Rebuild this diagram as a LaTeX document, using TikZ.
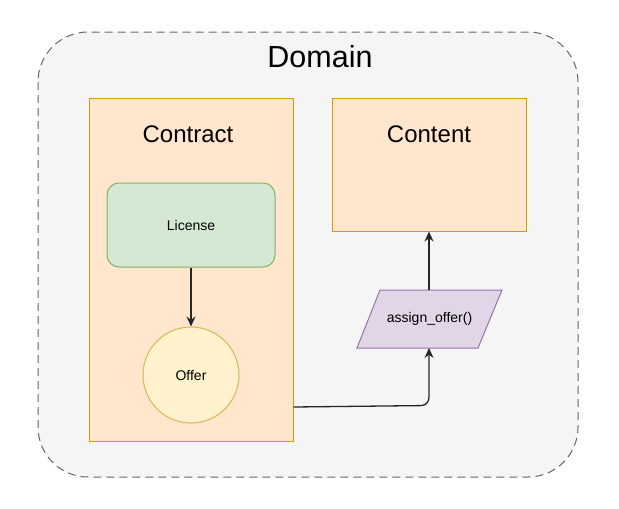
\documentclass[tikz,border=0pt]{standalone}
\usepackage{fontspec}
\setmainfont{Liberation Sans}
\usetikzlibrary{shapes.geometric,arrows.meta}
\definecolor{domfill}{HTML}{F5F5F5}
\definecolor{domline}{HTML}{666666}
\definecolor{orfill}{HTML}{FFE6CC}
\definecolor{orline}{HTML}{D79B00}
\definecolor{grfill}{HTML}{D5E8D4}
\definecolor{grline}{HTML}{82B366}
\definecolor{yefill}{HTML}{FFF2CC}
\definecolor{yeline}{HTML}{D6B656}
\definecolor{pufill}{HTML}{E1D5E7}
\definecolor{puline}{HTML}{9673A6}
\tikzset{
  box/.style={draw=orline, fill=orfill, line width=1pt},
  conn/.style={draw=black!85, line width=1.3pt, -{Stealth[length=10pt,width=9pt]}},
}
\begin{document}
\begin{tikzpicture}[x=1pt,y=-1pt]
\useasboundingbox (0,0) rectangle (619,509);
% Domain
\draw[draw=domline, fill=domfill, dash pattern=on 8pt off 5pt, line width=1pt, rounded corners=50pt] (38,32) rectangle (578,477);
\node[font=\fontsize{30.5}{34}\selectfont, anchor=center] (domainlbl) at (320,57) {Domain};
% Contract
\node[box, minimum width=204pt, minimum height=343pt, inner sep=0pt] (contract) at (191,269.5) {};
\node[font=\fontsize{24}{28}\selectfont] (contractlbl) at (188,134) {Contract};
% Content
\node[box, minimum width=194pt, minimum height=133pt, inner sep=0pt] (content) at (429,164.5) {};
\node[font=\fontsize{24}{28}\selectfont] (contentlbl) at (429,134) {Content};
% License
\node[draw=grline, fill=grfill, line width=1pt, rounded corners=12pt, minimum width=168pt, minimum height=84pt, font=\fontsize{14}{16}\selectfont] (license) at (191,225) {License};
% Offer
\node[draw=yeline, fill=yefill, line width=1pt, circle, minimum size=96pt, inner sep=0pt, font=\fontsize{14}{16}\selectfont] (offer) at (191,375) {Offer};
% assign_offer
\coordinate (a1) at (380,290);
\coordinate (a2) at (502,290);
\coordinate (a3) at (478,348);
\coordinate (a4) at (357,348);
\draw[draw=puline, fill=pufill, line width=1pt] (a1) -- (a2) -- (a3) -- (a4) -- cycle;
\node[font=\fontsize{14}{16}\selectfont] (assign) at (429.5,319) {assign\_offer()};
\coordinate (assigntop) at (429,290);
\coordinate (assignbot) at (429,348);
% connectors
\draw[conn] (license.south) -- (offer.north);
\draw[conn] (assigntop) -- (content.south);
\coordinate (cstart) at (contract.east |- 0,407);
\draw[conn, rounded corners=8pt] (cstart) -- (429,405.5) -- (assignbot);
\end{tikzpicture}
\end{document}
